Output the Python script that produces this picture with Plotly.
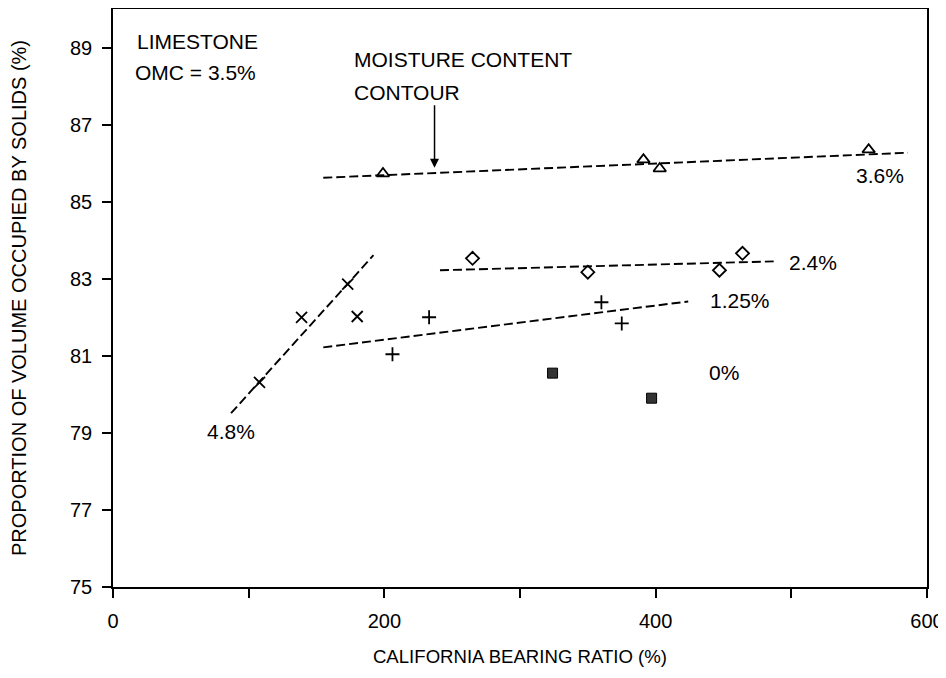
import plotly.graph_objects as go

# ---- data ----
tri_x = [199, 391, 403, 557]          # 3.6 % moisture
tri_y = [85.73, 86.09, 85.86, 86.35]
dia_x = [265, 350, 447, 464]          # 2.4 %
dia_y = [83.53, 83.17, 83.22, 83.66]
plus_x = [206, 233, 360, 375]         # 1.25 %
plus_y = [81.04, 82.00, 82.39, 81.84]
cross_x = [108, 139, 173, 180]        # 4.8 %
cross_y = [80.31, 82.00, 82.86, 82.02]
sq_x = [324, 397]                     # 0 %
sq_y = [80.55, 79.90]

# contour (fitted) lines: end points
fit36_x = [155, 586]; fit36_y = [85.62, 86.27]
fit24_x = [241, 487]; fit24_y = [83.22, 83.45]
fit125_x = [155, 424]; fit125_y = [81.22, 82.41]
fit48_x = [87, 192]; fit48_y = [79.51, 83.61]

x_ticks = [0, 100, 200, 300, 400, 500, 600]
x_ticktext = ["0", "", "200", "", "400", "", "600"]
y_ticks = [75, 77, 79, 81, 83, 85, 87, 89]

FONT = "Liberation Sans, Arial, Helvetica, sans-serif"
fig = go.Figure()

dash = "9px,4px"
for fx, fy in [(fit36_x, fit36_y), (fit24_x, fit24_y), (fit125_x, fit125_y), (fit48_x, fit48_y)]:
    fig.add_trace(go.Scatter(x=fx, y=fy, mode="lines",
                             line=dict(color="black", width=1.9, dash=dash),
                             showlegend=False, hoverinfo="skip"))

mk_line = dict(color="black", width=1.8)
fig.add_trace(go.Scatter(x=tri_x, y=tri_y, mode="markers",
                         marker=dict(symbol="triangle-up-open", size=11, color="black", line=mk_line),
                         showlegend=False))
fig.add_trace(go.Scatter(x=dia_x, y=dia_y, mode="markers",
                         marker=dict(symbol="diamond-open", size=10, color="black", line=mk_line),
                         showlegend=False))
fig.add_trace(go.Scatter(x=plus_x, y=plus_y, mode="markers",
                         marker=dict(symbol="cross-thin-open", size=10, color="black", line=mk_line),
                         showlegend=False))
fig.add_trace(go.Scatter(x=cross_x, y=cross_y, mode="markers",
                         marker=dict(symbol="x-thin-open", size=11, color="black", line=mk_line),
                         showlegend=False))
fig.add_trace(go.Scatter(x=sq_x, y=sq_y, mode="markers",
                         marker=dict(symbol="square", size=10, color="#333333",
                                     line=dict(color="black", width=1)),
                         showlegend=False))

annots = [
    dict(text="LIMESTONE", x=16, y=89.16, xanchor="left"),
    dict(text="OMC = 3.5%", x=14.5, y=88.35, xanchor="left"),
    dict(text="MOISTURE CONTENT", x=176, y=88.69, xanchor="left"),
    dict(text="CONTOUR", x=176, y=87.83, xanchor="left"),
    dict(text="3.6%", x=565, y=85.68, xanchor="center"),
    dict(text="4.8%", x=87, y=79.04, xanchor="center"),
    dict(text="2.4%", x=497, y=83.41, xanchor="left"),
    dict(text="1.25%", x=438.5, y=82.43, xanchor="left"),
    dict(text="0%", x=438, y=80.56, xanchor="left"),
]
for a in annots:
    fig.add_annotation(text=a["text"], x=a["x"], y=a["y"], xref="x", yref="y",
                       xanchor=a["xanchor"], yanchor="middle", showarrow=False,
                       font=dict(family=FONT, size=21, color="black"))

# arrow pointing to the contour
fig.add_annotation(x=237, y=85.88, ax=237, ay=87.54, xref="x", yref="y",
                   axref="x", ayref="y", text="", showarrow=True,
                   arrowhead=2, arrowsize=1.2, arrowwidth=1.5, arrowcolor="black")

fig.update_layout(
    width=938, height=662,
    margin=dict(l=105, r=19, t=1, b=83),
    paper_bgcolor="white", plot_bgcolor="white",
    font=dict(family=FONT, size=18, color="black"),
    showlegend=False,
)
fig.update_xaxes(range=[0, 600], tickvals=x_ticks, ticktext=x_ticktext,
                 ticks="outside", ticklen=9, tickwidth=1.5, tickcolor="black",
                 showline=True, linecolor="black", linewidth=1.5, mirror=True,
                 showgrid=False, zeroline=False, automargin=False,
                 ticklabeloverflow="allow", ticklabelstandoff=6,
                 tickfont=dict(family=FONT, size=20),
                 title=dict(text="CALIFORNIA BEARING RATIO (%)",
                            font=dict(family=FONT, size=18.6), standoff=19))
fig.update_yaxes(range=[75, 90], tickvals=y_ticks,
                 ticks="outside", ticklen=9, tickwidth=1.5, tickcolor="black",
                 showline=True, linecolor="black", linewidth=1.5, mirror=True,
                 showgrid=False, zeroline=False, automargin=False,
                 ticklabeloverflow="allow", ticklabelstandoff=6,
                 tickfont=dict(family=FONT, size=20),
                 title=dict(text="PROPORTION OF VOLUME OCCUPIED BY SOLIDS (%)",
                            font=dict(family=FONT, size=20), standoff=40))

fig.write_html("out.html")
